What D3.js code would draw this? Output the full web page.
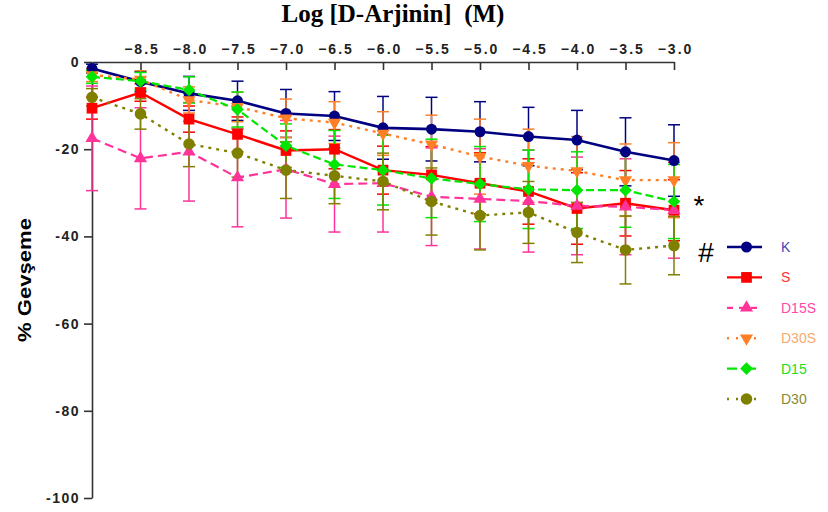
<!DOCTYPE html>
<html>
<head>
<meta charset="utf-8">
<script src="https://cdn.jsdelivr.net/npm/d3@7"></script>
<style>
  html, body { margin: 0; padding: 0; background: #fff; }
  svg { display: block; }
</style>
</head>
<body>
<svg id="chart" width="828" height="512"></svg>
<script>
// Log concentration of D-Arjinin (M)
const logDose = [-9.0, -8.5, -8.0, -7.5, -7.0, -6.5, -6.0, -5.5, -5.0, -4.5, -4.0, -3.5, -3.0];
const xTicks = [-8.5, -8.0, -7.5, -7.0, -6.5, -6.0, -5.5, -5.0, -4.5, -4.0, -3.5, -3.0];
const yTicks = [0, -20, -40, -60, -80, -100];
const seriesNames = ["K", "S", "D15S", "D30S", "D15", "D30"];

// Mean % relaxation per group
const meanK    = [-1.5, -4.5, -7.2, -8.9, -11.8, -12.4, -15.1, -15.4, -16.0, -17.1, -17.9, -20.6, -22.6];
const meanS    = [-10.6, -7.0, -13.1, -16.6, -20.3, -20.0, -24.8, -25.9, -27.8, -29.7, -33.6, -32.4, -34.0];
const meanD15S = [-17.5, -22.1, -20.6, -26.5, -24.6, -28.0, -27.8, -30.9, -31.4, -31.9, -33.0, -33.2, -34.0];
const meanD30S = [-3.0, -4.0, -8.7, -10.3, -12.9, -13.9, -16.4, -18.9, -21.7, -23.8, -25.0, -27.1, -27.1];
const meanD15  = [-3.4, -4.4, -6.4, -10.9, -19.2, -23.5, -24.8, -26.7, -28.0, -29.2, -29.4, -29.4, -32.0];
const meanD30  = [-8.1, -11.9, -18.8, -20.9, -24.8, -26.1, -27.4, -32.0, -35.2, -34.5, -39.1, -43.1, -42.1];

// Standard error per group
const semK    = [1.0, 2.3, 3.9, 4.5, 5.5, 5.6, 7.2, 7.3, 6.9, 6.7, 6.8, 7.8, 8.2];
const semS    = [2.5, 2.0, 3.0, 4.0, 4.5, 4.5, 5.5, 6.5, 7.0, 7.5, 8.2, 7.5, 7.0];
const semD15S = [12.0, 11.6, 11.3, 11.3, 11.2, 11.0, 11.2, 11.2, 11.5, 11.7, 11.2, 11.0, 11.0];
const semD30S = [1.5, 2.0, 3.0, 3.4, 4.4, 4.8, 5.0, 6.7, 8.6, 8.4, 7.9, 8.3, 8.6];
const semD15  = [1.5, 2.0, 3.0, 4.0, 5.0, 7.8, 8.0, 9.0, 8.6, 9.0, 8.8, 8.5, 8.5];
const semD30  = [2.0, 3.5, 5.2, 5.5, 6.5, 6.4, 6.5, 7.7, 7.9, 7.1, 6.9, 7.8, 6.7];

const means = [meanK, meanS, meanD15S, meanD30S, meanD15, meanD30];
const sems  = [semK, semS, semD15S, semD30S, semD15, semD30];

const styles = [
  { color: "#000080", label: "#4646b8", dash: null,  legendDash: null,  width: 2.6, symbol: d3.symbolCircle,   size: 95 },
  { color: "#ff0000", label: "#ff3030", dash: null,  legendDash: null,  width: 2.4, symbol: d3.symbolSquare,   size: 115 },
  { color: "#ff3399", label: "#ff4aa6", dash: "9,5", legendDash: "6,6", width: 2.2, symbol: d3.symbolTriangle, size: 75 },
  { color: "#ff7f27", label: "#f5aa70", dash: "3,5", legendDash: "2,7", width: 2.4, symbol: d3.symbolTriangle, size: 75, rotate: 180 },
  { color: "#00e600", label: "#22dd22", dash: "8,4", legendDash: "10,9", width: 2.2, symbol: d3.symbolSquare,  size: 80, rotate: 45 },
  { color: "#808000", label: "#8a8a30", dash: "3,5", legendDash: "2,7", width: 2.4, symbol: d3.symbolCircle,   size: 105 }
];

const svg = d3.select("#chart");
const x = d3.scaleLinear().domain([-9, -3]).range([92, 674]);
const y = d3.scaleLinear().domain([0, -100]).range([62, 498]);

const font = "'Liberation Sans', Arial, sans-serif";

// Title
svg.append("text")
  .attr("x", 393).attr("y", 22)
  .attr("text-anchor", "middle")
  .attr("xml:space", "preserve")
  .style("white-space", "pre")
  .style("font-family", "'Liberation Serif', 'Times New Roman', serif")
  .style("font-weight", "bold")
  .style("font-size", "25px")
  .text("Log [D-Arjinin]  (M)");

// Y axis title
svg.append("text")
  .attr("transform", "translate(31,280) rotate(-90)")
  .attr("text-anchor", "middle")
  .attr("textLength", 124)
  .attr("lengthAdjust", "spacingAndGlyphs")
  .style("font-family", font)
  .style("font-weight", "bold")
  .style("font-size", "19px")
  .text("% Gevşeme");

// Top x axis
const xAxis = svg.append("g")
  .attr("transform", `translate(0,${y(0)})`)
  .call(d3.axisTop(x).tickValues(xTicks).tickSizeInner(-8).tickSizeOuter(0).tickPadding(8)
    .tickFormat(d3.format(".1f")));
xAxis.select(".domain").attr("stroke", "#333").attr("stroke-width", 1.6);
xAxis.selectAll(".tick line").attr("stroke", "#333").attr("stroke-width", 1.6);
xAxis.selectAll(".tick text")
  .style("font-family", font).style("font-size", "14px").style("font-weight", "bold")
  .style("letter-spacing", "2px")
  .attr("dx", "1px")
  .attr("fill", "#222");

// Left y axis
const yAxis = svg.append("g")
  .attr("transform", `translate(${x(-9)},0)`)
  .call(d3.axisLeft(y).tickValues(yTicks).tickSizeInner(8).tickSizeOuter(0).tickPadding(4)
    .tickFormat(d => d === 0 ? "0" : "-" + Math.abs(d)));
yAxis.select(".domain").attr("stroke", "#333").attr("stroke-width", 1.6);
yAxis.selectAll(".tick line").attr("stroke", "#333").attr("stroke-width", 1.6);
yAxis.selectAll(".tick text")
  .style("font-family", font).style("font-size", "14px").style("font-weight", "bold")
  .style("letter-spacing", "1.5px")
  .attr("fill", "#222");

const plot = svg.append("g");

// Error bars
means.forEach((m, si) => {
  const st = styles[si];
  const g = plot.append("g").attr("stroke", st.color).attr("stroke-width", 1.5).attr("fill", "none");
  m.forEach((v, i) => {
    const cx = x(logDose[i]);
    const y1 = y(v + sems[si][i]), y2 = y(v - sems[si][i]);
    g.append("line").attr("x1", cx).attr("x2", cx).attr("y1", y1).attr("y2", y2);
    g.append("line").attr("x1", cx - 6).attr("x2", cx + 6).attr("y1", y1).attr("y2", y1);
    g.append("line").attr("x1", cx - 6).attr("x2", cx + 6).attr("y1", y2).attr("y2", y2);
  });
});

// Connecting lines
const line = d3.line().x((d, i) => x(logDose[i])).y(d => y(d));
means.forEach((m, si) => {
  const st = styles[si];
  plot.append("path")
    .attr("d", line(m))
    .attr("fill", "none")
    .attr("stroke", st.color)
    .attr("stroke-width", st.width)
    .attr("stroke-dasharray", st.dash);
});

// Markers
function marker(g, st, cx, cy) {
  g.append("path")
    .attr("d", d3.symbol().type(st.symbol).size(st.size)())
    .attr("transform", `translate(${cx},${cy})` + (st.rotate ? ` rotate(${st.rotate})` : ""))
    .attr("fill", st.color);
}
means.forEach((m, si) => {
  const g = plot.append("g");
  m.forEach((v, i) => marker(g, styles[si], x(logDose[i]), y(v)));
});

// Significance marks
svg.append("text").attr("x", 699).attr("y", 215).attr("text-anchor", "middle")
  .style("font-family", font).style("font-size", "28px").text("*");
svg.append("text").attr("x", 706).attr("y", 262).attr("text-anchor", "middle")
  .style("font-family", font).style("font-size", "28px").text("#");

// Legend
const legend = svg.append("g");
seriesNames.forEach((name, si) => {
  const st = styles[si];
  const ly = 247 + si * 30.4;
  legend.append("line")
    .attr("x1", 727).attr("x2", 762).attr("y1", ly).attr("y2", ly)
    .attr("stroke", st.color).attr("stroke-width", st.width)
    .attr("stroke-dasharray", st.legendDash);
  marker(legend, st, 746.5, ly);
  legend.append("text")
    .attr("x", 781).attr("y", ly + 5)
    .style("font-family", font).style("font-size", "14px")
    .attr("fill", st.label)
    .text(name);
});
</script>
</body>
</html>
